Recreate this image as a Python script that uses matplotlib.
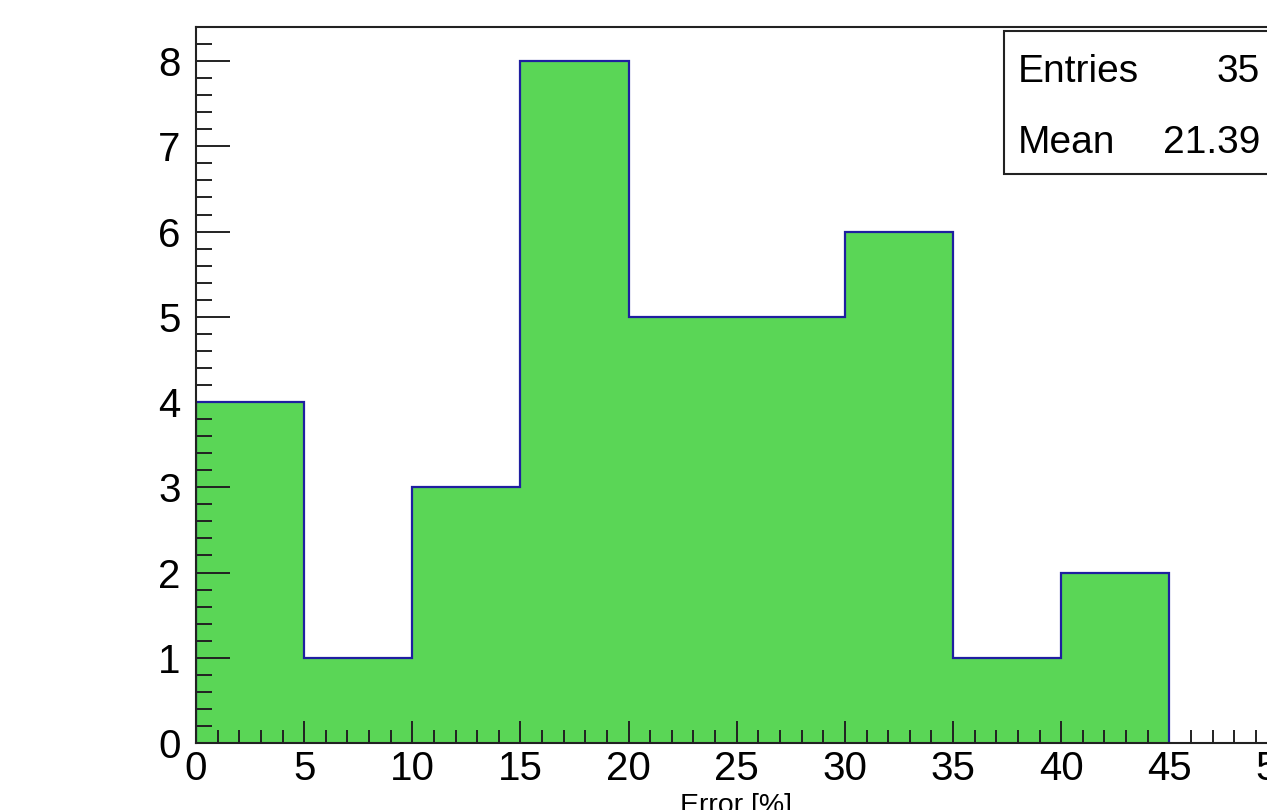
import matplotlib.pyplot as plt
from matplotlib.patches import Rectangle
from matplotlib.ticker import MultipleLocator

# histogram data
bin_edges = [0, 5, 10, 15, 20, 25, 30, 35, 40, 45]
counts = [4, 1, 3, 8, 5, 5, 6, 1, 2]
n_entries = 35
mean_val = 21.39

plt.rcParams['font.family'] = ['Liberation Sans', 'DejaVu Sans']

W, H = 1267, 810
fig = plt.figure(figsize=(W / 100, H / 100), dpi=100)

# axes extends past the right border (picture is cropped)
x0, x1, y0, y1 = 196, 1277.5, 743, 27
ax = fig.add_axes([x0 / W, 1 - y0 / H, (x1 - x0) / W, (y0 - y1) / H])

ax.stairs(counts, bin_edges, fill=True, color='#5ad656', baseline=0, zorder=2)
ax.stairs(counts, bin_edges, fill=False, color='#1f1fa0', linewidth=1.6,
          baseline=0, zorder=3)

ax.set_xlim(0, 50)
ax.set_ylim(0, 8.4)

ax.xaxis.set_major_locator(MultipleLocator(5))
ax.xaxis.set_minor_locator(MultipleLocator(1))
ax.yaxis.set_major_locator(MultipleLocator(1))
ax.yaxis.set_minor_locator(MultipleLocator(0.2))

ax.tick_params(axis='both', which='both', direction='in', top=False,
               right=False, width=1.4, color='#222222', labelsize=29)
ax.tick_params(axis='x', which='major', length=16, pad=5)
ax.tick_params(axis='x', which='minor', length=9.4)
ax.tick_params(axis='y', which='major', length=24.5, pad=11)
ax.tick_params(axis='y', which='minor', length=11.5)

for s in ax.spines.values():
    s.set_linewidth(1.5)
    s.set_color('#222222')
    s.set_zorder(4)
ax.set_axisbelow(False)

# x title (cut by the bottom border)
fig.text(736.5 / W, 1 - 793 / H, 'Error [%]', ha='center', va='top',
         fontsize=20.5)

# stats box, its right side is cut by the border
bx0, by_top, by_bot = 1004, 31, 174
fig.patches.append(Rectangle((bx0 / W, 1 - by_bot / H), 0.4,
                             (by_bot - by_top) / H, transform=fig.transFigure,
                             facecolor='white', edgecolor='#222222',
                             linewidth=1.5, zorder=5))
fig.text(1018 / W, 1 - 67.5 / H, 'Entries', ha='left', va='center_baseline',
         fontsize=28, zorder=6)
fig.text(1260 / W, 1 - 67.5 / H, f'{n_entries}', ha='right',
         va='center_baseline', fontsize=28, zorder=6)
fig.text(1018 / W, 1 - 139 / H, 'Mean', ha='left', va='center_baseline',
         fontsize=28, zorder=6)
fig.text(1260 / W, 1 - 139 / H, f'{mean_val:.2f}', ha='right',
         va='center_baseline', fontsize=28, zorder=6)

plt.savefig('out.png', dpi=100)
